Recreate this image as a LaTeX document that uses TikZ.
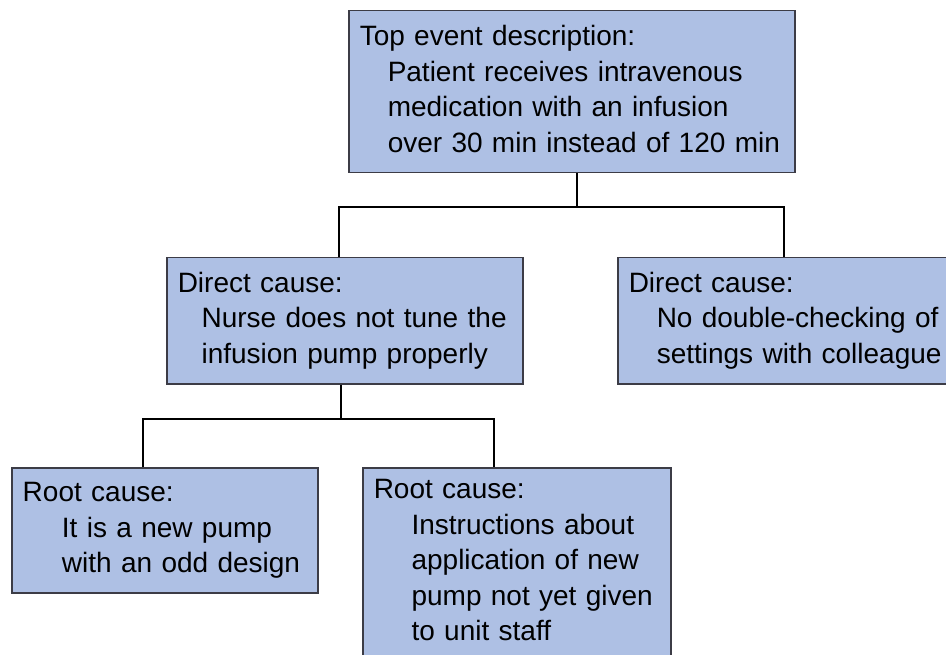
\documentclass[tikz,border=0pt]{standalone}
\usepackage{fontspec}
\setmainfont{Liberation Sans}
\definecolor{boxfill}{RGB}{174,192,228}
\definecolor{boxline}{RGB}{60,60,70}
\newcommand{\capline}[1]{\mbox{#1}\strut}
\newcommand{\indline}[2][1em]{\hspace*{#1}\mbox{#2}\strut}
\begin{document}
\begin{tikzpicture}[x=1pt,y=-1pt,
        every node/.style={font=\fontsize{28}{35.5}\selectfont},
        cbox/.style={rectangle,draw=boxline,fill=boxfill,line width=1.5pt,
            anchor=north west,align=left,inner xsep=11pt,inner ysep=2pt},
        wire/.style={draw=black,line width=1.5pt}]
    \useasboundingbox (0,0) rectangle (946,655);
    \clip (0,0) rectangle (946,655);
    \fill[white] (0,0) rectangle (946,655);
    % boxes
    \node[cbox,text width=424pt,minimum height=162pt] (top) at (348,10)
        {\capline{Top event description:}\\
         \indline{Patient receives intravenous}\\
         \indline{medication with an infusion}\\
         \indline{over 30 min instead of 120 min}};
    \node[cbox,text width=334pt,minimum height=126pt] (dcA) at (166,257)
        {\capline{Direct cause:}\\
         \indline[0.85em]{Nurse does not tune the}\\
         \indline[0.85em]{infusion pump properly}};
    \node[cbox,text width=321pt,minimum height=126pt] (dcB) at (617,257)
        {\capline{Direct cause:}\\
         \indline{No double-checking of}\\
         \indline{settings with colleague}};
    \node[cbox,text width=284pt,minimum height=125pt] (rcA) at (11,467)
        {\capline{Root cause:}\\
         \indline[1.4em]{It is a new pump}\\
         \indline[1.4em]{with an odd design}};
    \node[cbox,text width=286pt,minimum height=190pt] (rcB) at (362,467)
        {\capline{Root cause:}\\
         \indline[1.35em]{Instructions about}\\
         \indline[1.35em]{application of new}\\
         \indline[1.35em]{pump not yet given}\\
         \indline[1.35em]{to unit staff}};
    % junctions
    \coordinate (t0) at (577,207);
    \coordinate (kA) at (339,207);
    \coordinate (kB) at (784,207);
    \coordinate (d0) at (341,419);
    \coordinate (lA) at (143,419);
    \coordinate (lB) at (494,419);
    % connectors
    \draw[wire] (top.south -| t0) -- (t0);
    \draw[wire] (kA |- dcA.north) -- (kA) -- (kB) -- (kB |- dcB.north);
    \draw[wire] (dcA.south -| d0) -- (d0);
    \draw[wire] (lA |- rcA.north) -- (lA) -- (lB) -- (lB |- rcB.north);
\end{tikzpicture}
\end{document}
